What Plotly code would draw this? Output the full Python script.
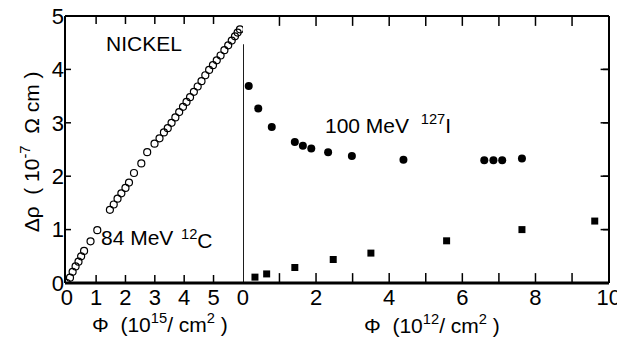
import plotly.graph_objects as go

# Left panel: 84 MeV 12C, fluence in 1e15/cm^2
c_x = [0.00, 0.11, 0.20, 0.30, 0.40, 0.49, 0.59, 0.81, 1.04,
       1.47, 1.60, 1.73, 1.86, 2.00, 2.12, 2.29, 2.54, 2.74, 2.99, 3.16,
       3.31, 3.44, 3.57, 3.70, 3.83, 3.96, 4.08, 4.20, 4.33, 4.46, 4.59,
       4.72, 4.85, 4.98, 5.11, 5.24, 5.37, 5.50, 5.62, 5.73, 5.82, 5.90]
c_y = [0.00, 0.10, 0.21, 0.31, 0.40, 0.50, 0.60, 0.78, 0.99,
       1.37, 1.47, 1.58, 1.68, 1.78, 1.88, 2.06, 2.24, 2.45, 2.61, 2.71,
       2.82, 2.90, 3.00, 3.10, 3.20, 3.30, 3.39, 3.48, 3.58, 3.68, 3.78,
       3.89, 3.99, 4.08, 4.17, 4.26, 4.36, 4.45, 4.54, 4.62, 4.69, 4.75]

# Right panel: 100 MeV 127I, fluence in 1e12/cm^2
i_x = [0.16, 0.42, 0.79, 1.42, 1.64, 1.87, 2.33, 2.98, 4.39, 6.60, 6.85, 7.09, 7.63]
i_y = [3.69, 3.27, 2.92, 2.64, 2.57, 2.52, 2.45, 2.38, 2.31, 2.30, 2.30, 2.30, 2.33]

sq_x = [0.33, 0.65, 1.42, 2.47, 3.50, 5.57, 7.63, 9.62]
sq_y = [0.11, 0.17, 0.29, 0.44, 0.56, 0.79, 1.00, 1.16]

left_ticks = [0, 1, 2, 3, 4, 5]
right_ticks = list(range(0, 11))
right_labels = ["0", "", "2", "", "4", "", "6", "", "8", "", "10"]
y_ticks = [0, 1, 2, 3, 4, 5]

X1_RANGE = [-0.06, 6]
X2_RANGE = [0, 10.01]
Y_RANGE = [0, 5]

FONT = "Liberation Sans"
SPLIT = 0.327

fig = go.Figure()

# divider
fig.add_trace(go.Scatter(x=[0, 0], y=[0, 4.47], mode="lines",
                         line=dict(color="black", width=2), cliponaxis=False,
                         hoverinfo="skip", xaxis="x2", yaxis="y2"))

# inside tick marks on the right edge
yt = [v for v in y_ticks if 0 < v < 5]
fig.add_trace(go.Scatter(x=[X2_RANGE[1]] * len(yt), y=yt, mode="markers",
                         marker=dict(symbol="line-ew-open", size=12, color="black",
                                     line=dict(color="black", width=1.5)),
                         hoverinfo="skip", xaxis="x2", yaxis="y2"))

# data
fig.add_trace(go.Scatter(x=c_x, y=c_y, mode="markers", xaxis="x", yaxis="y",
                         marker=dict(symbol="circle-open", size=7, color="black",
                                     line=dict(width=1.2, color="black"))))
fig.add_trace(go.Scatter(x=i_x, y=i_y, mode="markers", xaxis="x2", yaxis="y2",
                         marker=dict(symbol="circle", size=8, color="black")))
fig.add_trace(go.Scatter(x=sq_x, y=sq_y, mode="markers", xaxis="x2", yaxis="y2",
                         marker=dict(symbol="square", size=7, color="black")))

tf = dict(family=FONT, size=22, color="black")
common = dict(showline=False, ticks="", showgrid=False, zeroline=False,
              ticklabeloverflow="allow")

fig.update_layout(
    template="none",
    width=617, height=344,
    margin=dict(l=65, r=8, t=16, b=61),
    paper_bgcolor="white", plot_bgcolor="rgba(0,0,0,0)",
    showlegend=False,
    xaxis=dict(domain=[0, SPLIT], range=X1_RANGE, tickmode="array",
               tickvals=left_ticks, ticktext=[str(v) for v in left_ticks],
               tickfont=tf, anchor="y", ticklabelstandoff=-1, **common),
    xaxis2=dict(domain=[SPLIT, 1], range=X2_RANGE, tickmode="array",
                tickvals=right_ticks, ticktext=right_labels,
                tickfont=tf, anchor="y2", ticklabelstandoff=-1, **common),
    yaxis=dict(domain=[0, 1], range=Y_RANGE, tickmode="array", tickvals=y_ticks,
               ticktext=[str(v) for v in y_ticks], tickfont=tf,
               anchor="x", ticklabelstandoff=0, **common),
    yaxis2=dict(domain=[0, 1], range=Y_RANGE, tickmode="array", tickvals=y_ticks,
                side="right", showticklabels=False, anchor="x2", **common),
)

# outer frame (paper coordinates = plot area)
for x0, y0, x1, y1, w in [(0, 0, 0, 1, 2), (0, 0, 1, 0, 3), (0, 1, 1, 1, 2), (1, 0, 1, 1, 2)]:
    fig.add_shape(type="line", xref="paper", yref="paper", x0=x0, y0=y0, x1=x1, y1=y1,
                  line=dict(color="black", width=w), layer="above")

# tick marks at the axis tick values
def xticks(xref, vals, frac):
    for v in vals:
        fig.add_shape(type="line", xref=xref, yref="paper", x0=v, x1=v, y0=0, y1=frac,
                      line=dict(color="black", width=1.5))
        fig.add_shape(type="line", xref=xref, yref="paper", x0=v, x1=v, y0=1, y1=1 - frac,
                      line=dict(color="black", width=1.5))

xticks("x", [v for v in left_ticks if v > 0], 0.03)
xticks("x2", [v for v in right_ticks if 0 < v < 10], 0.037)
for v in yt:
    fig.add_shape(type="line", xref="paper", yref="y", x0=0, x1=0.011, y0=v, y1=v,
                  line=dict(color="black", width=1.5))
    fig.add_shape(type="line", xref="paper", yref="y", x0=1, x1=0.989, y0=v, y1=v,
                  line=dict(color="black", width=1.5))

ann_font = dict(family=FONT, size=21, color="black")
def note(text, x, y, xref, yref, **kw):
    fig.add_annotation(text=text, x=x, y=y, xref=xref, yref=yref, showarrow=False,
                       xanchor="center", yanchor="middle", font=ann_font, **kw)

note("NICKEL", 2.63, 4.49, "x", "y")
note("84 MeV", 2.39, 0.86, "x", "y")
note("<sup>12</sup>C", 4.45, 0.82, "x", "y")
note("100 MeV  <sup>127</sup>I", 3.98, 2.97, "x2", "y2")
note("Φ  (10<sup>15</sup>/ cm<sup>2</sup> )", 0.175, -0.15, "paper", "paper")
note("Φ  (10<sup>12</sup>/ cm<sup>2</sup> )", 0.675, -0.155, "paper", "paper")
note("Δρ  ( 10<sup>-7</sup>  Ω cm )", -0.064, 0.49, "paper", "paper", textangle=-90)

fig.write_html("out.html")
